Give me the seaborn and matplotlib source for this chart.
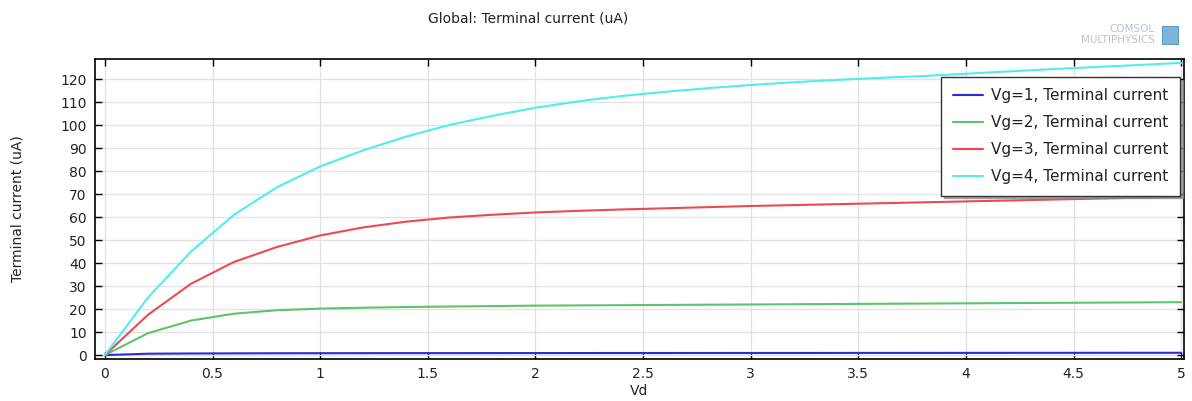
import numpy as np
import pandas as pd
import matplotlib
matplotlib.use("Agg")
import matplotlib.pyplot as plt
import seaborn as sns

# Drain voltage sweep (V)
vd = [0.0, 0.2, 0.4, 0.6, 0.8, 1.0, 1.2, 1.4, 1.6, 1.8, 2.0, 2.2, 2.4,
      2.6, 2.8, 3.0, 3.2, 3.4, 3.6, 3.8, 4.0, 4.2, 4.4, 4.6, 4.8, 5.0]

# Terminal current (uA) for each gate voltage
i_vg1 = [0.0, 0.6, 0.7, 0.75, 0.8, 0.82, 0.84, 0.85, 0.86, 0.87, 0.88, 0.89, 0.9,
         0.9, 0.91, 0.92, 0.92, 0.93, 0.94, 0.95, 0.96, 0.97, 0.98, 0.99, 1.0, 1.0]
i_vg2 = [0.0, 9.5, 15.0, 18.0, 19.5, 20.2, 20.6, 20.9, 21.1, 21.3, 21.5, 21.6, 21.7,
         21.8, 21.9, 22.0, 22.1, 22.2, 22.3, 22.4, 22.5, 22.6, 22.7, 22.8, 22.9, 23.0]
i_vg3 = [0.0, 17.5, 31.0, 40.5, 47.0, 52.0, 55.5, 58.0, 59.8, 61.0, 62.0, 62.7, 63.3,
         63.8, 64.3, 64.8, 65.2, 65.6, 66.0, 66.4, 66.8, 67.2, 67.6, 68.0, 68.4, 68.8]
i_vg4 = [0.0, 25.0, 45.0, 61.0, 73.0, 82.0, 89.0, 95.0, 100.0, 104.0, 107.5, 110.3, 112.6,
         114.4, 116.0, 117.4, 118.6, 119.6, 120.5, 121.3, 122.3, 123.3, 124.3, 125.2, 126.1, 127.0]

series_names = ["Vg=1, Terminal current", "Vg=2, Terminal current",
                "Vg=3, Terminal current", "Vg=4, Terminal current"]
series_values = [i_vg1, i_vg2, i_vg3, i_vg4]
colors = ["#2b2bdc", "#5cc46c", "#ec4a50", "#4eeeee"]

x_ticks = [0, 0.5, 1, 1.5, 2, 2.5, 3, 3.5, 4, 4.5, 5]
x_tick_labels = ["0", "0.5", "1", "1.5", "2", "2.5", "3", "3.5", "4", "4.5", "5"]
y_ticks = list(range(0, 121, 10))

df = pd.concat(
    [pd.DataFrame({"Vd": vd, "I": vals, "series": name})
     for name, vals in zip(series_names, series_values)],
    ignore_index=True,
)

sns.set_theme(style="white")
plt.rcParams["font.family"] = ["DejaVu Sans"]

fig = plt.figure(figsize=(11.92, 4.01), dpi=100)
ax = fig.add_axes([95 / 1192, 42 / 401, 1089 / 1192, 300 / 401])

sns.lineplot(data=df, x="Vd", y="I", hue="series", hue_order=series_names,
             palette=colors, linewidth=1.5, ax=ax, legend=True)

ax.set_xlim(-0.046, 5.013)
ax.set_ylim(-1.7, 128.7)
ax.set_xticks(x_ticks)
ax.set_xticklabels(x_tick_labels)
ax.set_yticks(y_ticks)
ax.grid(True, color="#e2e2e2", linewidth=1.0)
ax.set_axisbelow(True)

for s in ax.spines.values():
    s.set_color("black")
    s.set_linewidth(1.2)

ax.tick_params(axis="both", which="both", direction="in", length=5, width=1.0,
               colors="black", labelsize=10, labelcolor="#222222",
               top=True, right=True, bottom=True, left=True)
ax.tick_params(axis="y", pad=6)
ax.tick_params(axis="x", pad=6)

ax.set_xlabel("Vd", fontsize=10, color="#222222", labelpad=2)
ax.set_ylabel("Terminal current (uA)", fontsize=10, color="#222222", labelpad=26)

leg = ax.legend(loc="upper right", bbox_to_anchor=(0.9963, 0.94), borderaxespad=0,
                fontsize=11, frameon=True, fancybox=False,
                shadow={"color": "#888888", "alpha": 0.7},
                borderpad=0.75, labelspacing=0.78, handlelength=2.0,
                handletextpad=0.5)
leg.get_frame().set_edgecolor("#333333")
leg.get_frame().set_linewidth(1.0)
for t in leg.get_texts():
    t.set_color("#222222")
leg.set_title(None)

fig.text(528 / 1192, 1 - 19 / 401, "Global: Terminal current (uA)", ha="center",
         va="center", fontsize=10, color="#222222")

# Product mark in the upper right corner
fig.text(1155 / 1192, 1 - 29 / 401, "COMSOL", ha="right", va="center",
         fontsize=7.5, color="#b8c4d0")
fig.text(1155 / 1192, 1 - 40 / 401, "MULTIPHYSICS", ha="right", va="center",
         fontsize=7.5, color="#b8c4d0")
fig.patches.append(plt.Rectangle((1162 / 1192, 1 - 44 / 401), 16 / 1192, 18 / 401,
                                 transform=fig.transFigure, facecolor="#7fb4d8",
                                 edgecolor="#5a9cc8", linewidth=0.8))

fig.savefig("out.png", dpi=100)
